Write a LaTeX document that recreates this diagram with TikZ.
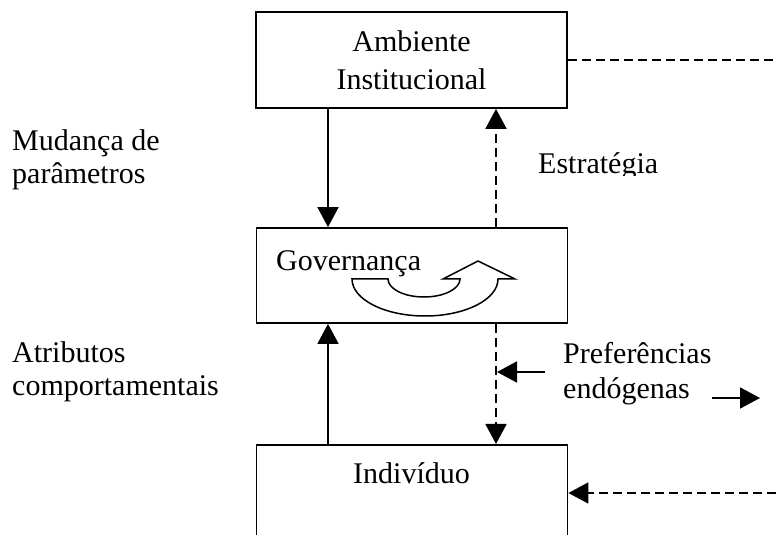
\documentclass[tikz,border=0pt]{standalone}
\usepackage{fontspec}
\setmainfont{Liberation Serif}
\usetikzlibrary{arrows.meta}
\begin{document}
\begin{tikzpicture}[x=1pt,y=1pt,
  every node/.style={font=\fontsize{30}{38}\selectfont, inner sep=0pt},
  boxstyle/.style={draw, line width=1.8pt, minimum width=311pt},
  arr/.style={line width=1.8pt, -{Triangle[length=20pt,width=21pt]}},
  darr/.style={arr, dash pattern=on 9pt off 5pt},
  dline/.style={line width=1.8pt, dash pattern=on 9pt off 5pt},
  txt/.style={anchor=base west},
  bentarrow/.style={draw, fill=white, line width=1.5pt, line join=miter}]
\useasboundingbox (0,0) rectangle (776,535);
\clip (0,0) rectangle (776,535);

% boxes
\node[boxstyle, minimum height=96pt, align=center] (amb) at (411.5,475) {Ambiente\\Institucional};
\node[boxstyle, minimum height=95pt] (gov) at (412,259.5) {};
\node[boxstyle, minimum height=130pt, anchor=north] (ind) at (412,91) {};
\node[anchor=base] (indt) at (411.5,51) {Indivíduo};
\node[txt] (govt) at (276,264) {Governança};

% helper coordinates
\coordinate (xl) at (328,0);
\coordinate (xr) at (496,0);
\coordinate (rtop) at (776,475);
\coordinate (rbot) at (776,42);
\coordinate (sa1) at (545,163);
\coordinate (sa2) at (497,163);
\coordinate (sb1) at (712,137);
\coordinate (sb2) at (760,137);

% vertical connectors
\draw[arr] (amb.south -| xl) -- (gov.north -| xl);
\draw[darr] (gov.north -| xr) -- (amb.south -| xr);
\draw[arr] (ind.north -| xl) -- (gov.south -| xl);
\draw[darr] (gov.south -| xr) -- (ind.north -| xr);

% horizontal connectors
\draw[dline] (amb.east) -- (rtop);
\draw[darr] (rbot) -- (rbot -| ind.east);
\draw[arr] (sa1) -- (sa2);
\draw[arr] (sb1) -- (sb2);

% labels
\node[txt] (l1a) at (12,384) {Mudança de};
\node[txt] (l1b) at (12,351) {parâmetros};
\node[txt] (l2a) at (12,172) {Atributos};
\node[txt] (l2b) at (12,139) {comportamentais};
\node[txt] (l3a) at (563,171) {Preferências};
\node[txt] (l3b) at (563,136) {endógenas};
\begin{scope}
  \clip (530,359) rectangle (700,400);
  \node[txt] (est) at (538,361) {Estratégia};
\end{scope}

% curved block arrow inside Governança
\path[bentarrow] (352,256) arc[start angle=180, end angle=360, x radius=73, y radius=37]
  -- (515,256) -- (478,274) -- (443,256) -- (460,256)
  arc[start angle=0, end angle=-180, x radius=36, y radius=18] -- cycle;
\end{tikzpicture}
\end{document}
